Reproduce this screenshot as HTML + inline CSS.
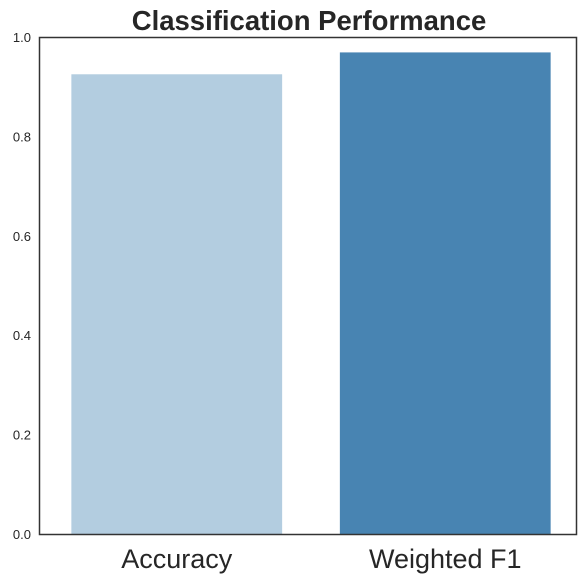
<!DOCTYPE html>
<html><head><meta charset="utf-8"><style>
html,body{margin:0;padding:0;background:#fff;width:584px;height:584px;overflow:hidden}
svg{display:block;font-family:"Liberation Sans",Arial,sans-serif}
</style></head><body>
<svg id="chart" width="584" height="584">
<text x="309" y="30" text-anchor="middle" font-size="27.5" font-weight="bold" fill="#262626">Classification Performance</text>
<g id="bars"></g>
<g id="yticks"></g>
<g id="xticks"></g>
<rect x="39.5" y="37.5" width="537" height="497" fill="none" stroke="#333" stroke-width="1.5"/>
</svg>
<script>
const categories = ["Accuracy", "Weighted F1"];
const values = [0.926, 0.970];
const colors = ["#b3cde0", "#4884b2"];
const yTicks = ["0.0", "0.2", "0.4", "0.6", "0.8", "1.0"];
const L = 39.5, R = 576.5, T = 37.5, B = 534.5;
const ns = "http://www.w3.org/2000/svg";
function y(v){ return B - v * (B - T); }
const band = (R - L) / categories.length;
function xc(i){ return L + band * (i + 0.5) + 3; }
const bars = document.getElementById('bars');
categories.forEach((c, i) => {
  const w = band * 0.785;
  const r = document.createElementNS(ns, 'rect');
  r.setAttribute('x', xc(i) - w / 2);
  r.setAttribute('y', y(values[i]));
  r.setAttribute('width', w);
  r.setAttribute('height', B - y(values[i]));
  r.setAttribute('fill', colors[i]);
  
  
  bars.appendChild(r);
  const t = document.createElementNS(ns, 'text');
  t.setAttribute('x', xc(i));
  t.setAttribute('y', 568);
  t.setAttribute('text-anchor', 'middle');
  t.setAttribute('font-size', '27');
  t.setAttribute('fill', '#262626');
  t.textContent = c;
  
  
  document.getElementById('xticks').appendChild(t);
});
yTicks.forEach(lbl => {
  const t = document.createElementNS(ns, 'text');
  t.setAttribute('x', 31);
  t.setAttribute('y', y(parseFloat(lbl)) + 4.5);
  t.setAttribute('text-anchor', 'end');
  t.setAttribute('font-size', '13');
  t.setAttribute('fill', '#262626');
  t.textContent = lbl;
  
  
  document.getElementById('yticks').appendChild(t);
});
</script>
</body></html>
